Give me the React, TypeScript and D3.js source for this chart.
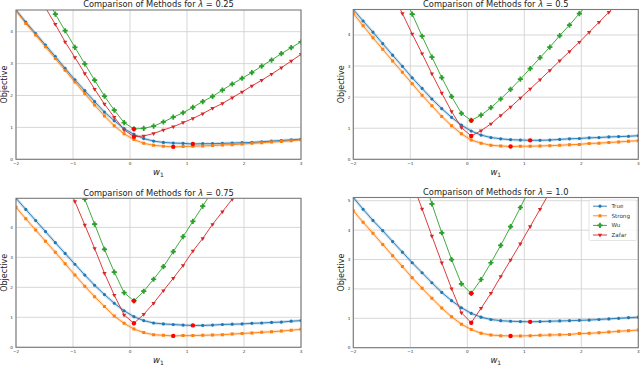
import React from 'react';
import * as d3 from 'd3';

const xValues = [-2, -1.828, -1.655, -1.483, -1.31, -1.138, -0.966, -0.793, -0.621, -0.448, -0.276, -0.103, 0.069, 0.241, 0.414, 0.586, 0.759, 0.931, 1.103, 1.276, 1.448, 1.621, 1.793, 1.966, 2.138, 2.31, 2.483, 2.655, 2.828, 3.0];

const lambdas = ['0.25', '0.5', '0.75', '1.0'];
const methods = ['True', 'Strong', 'Wu', 'Zafar'];
const yTops = [4.68, 4.82, 4.97, 5.11];
const xTicks = [-2, -1, 0, 1, 2, 3];
const yTicksPanels = [[0, 1, 2, 3, 4], [0, 1, 2, 3, 4], [0, 1, 2, 3, 4], [0, 1, 2, 3, 4, 5]];

// lambda = 0.25
const trueL025 = [4.68, 4.30, 3.94, 3.58, 3.22, 2.85, 2.49, 2.15, 1.81, 1.48, 1.21, 0.96, 0.78, 0.65, 0.57, 0.53, 0.51, 0.50, 0.48, 0.49, 0.49, 0.50, 0.51, 0.52, 0.53, 0.55, 0.57, 0.59, 0.61, 0.63];
const strongL025 = [4.66, 4.26, 3.90, 3.53, 3.16, 2.79, 2.42, 2.06, 1.70, 1.36, 1.05, 0.80, 0.62, 0.50, 0.44, 0.41, 0.39, 0.40, 0.41, 0.42, 0.43, 0.45, 0.46, 0.48, 0.50, 0.52, 0.54, 0.56, 0.58, 0.61];
const wuL025 = [6.69, 6.16, 5.63, 5.12, 4.55, 4.03, 3.51, 2.99, 2.48, 1.98, 1.54, 1.15, 0.95, 0.97, 1.04, 1.17, 1.32, 1.46, 1.63, 1.81, 1.97, 2.17, 2.36, 2.54, 2.72, 2.92, 3.11, 3.31, 3.50, 3.68];
const zafarL025 = [6.34, 5.81, 5.28, 4.75, 4.23, 3.68, 3.19, 2.69, 2.20, 1.73, 1.32, 0.92, 0.71, 0.73, 0.81, 0.92, 1.02, 1.15, 1.28, 1.43, 1.60, 1.75, 1.93, 2.11, 2.30, 2.48, 2.67, 2.87, 3.08, 3.29];

// lambda = 0.5
const trueL05 = [4.82, 4.45, 4.09, 3.72, 3.35, 2.99, 2.62, 2.28, 1.94, 1.63, 1.35, 1.10, 0.91, 0.78, 0.70, 0.66, 0.63, 0.62, 0.61, 0.61, 0.62, 0.64, 0.66, 0.67, 0.69, 0.70, 0.72, 0.73, 0.74, 0.76];
const strongL05 = [4.69, 4.30, 3.91, 3.54, 3.16, 2.80, 2.43, 2.06, 1.72, 1.38, 1.08, 0.82, 0.62, 0.52, 0.45, 0.43, 0.41, 0.42, 0.42, 0.43, 0.44, 0.45, 0.47, 0.48, 0.51, 0.52, 0.54, 0.56, 0.58, 0.60];
const wuL05 = [8.9, 8.2, 7.5, 6.8, 6.1, 5.38, 4.67, 3.96, 3.29, 2.63, 2.02, 1.48, 1.25, 1.42, 1.66, 1.94, 2.25, 2.58, 2.92, 3.27, 3.61, 3.98, 4.32, 4.69, 5.05, 5.42, 5.78, 6.15, 6.52, 6.88];
const zafarL05 = [7.9, 7.25, 6.6, 5.95, 5.3, 4.69, 4.03, 3.40, 2.75, 2.13, 1.54, 1.02, 0.75, 0.92, 1.14, 1.41, 1.68, 1.97, 2.26, 2.56, 2.86, 3.17, 3.47, 3.77, 4.09, 4.41, 4.73, 5.05, 5.37, 5.69];

// lambda = 0.75
const trueL075 = [4.97, 4.60, 4.23, 3.86, 3.49, 3.13, 2.77, 2.41, 2.07, 1.76, 1.47, 1.22, 1.02, 0.89, 0.81, 0.78, 0.76, 0.74, 0.73, 0.73, 0.74, 0.76, 0.77, 0.78, 0.80, 0.81, 0.83, 0.84, 0.87, 0.89];
const strongL075 = [4.67, 4.29, 3.91, 3.54, 3.17, 2.79, 2.41, 2.04, 1.69, 1.36, 1.04, 0.80, 0.61, 0.49, 0.42, 0.40, 0.38, 0.39, 0.39, 0.40, 0.41, 0.42, 0.44, 0.46, 0.48, 0.50, 0.52, 0.54, 0.57, 0.60];
const wuL075 = [10.6, 9.8, 9.0, 8.2, 7.4, 6.6, 5.8, 4.94, 4.11, 3.27, 2.51, 1.82, 1.55, 1.87, 2.27, 2.69, 3.19, 3.69, 4.20, 4.71, 5.22, 5.73, 6.24, 6.75, 7.26, 7.77, 8.28, 8.79, 9.30, 9.81];
const zafarL075 = [9.6, 8.8, 8.0, 7.2, 6.45, 5.65, 4.86, 4.08, 3.30, 2.47, 1.74, 1.08, 0.80, 1.10, 1.47, 1.89, 2.30, 2.73, 3.21, 3.63, 4.10, 4.52, 4.94, 5.37, 5.80, 6.23, 6.66, 7.09, 7.52, 7.95];

// lambda = 1.0
const trueL10 = [5.11, 4.71, 4.33, 3.98, 3.61, 3.25, 2.89, 2.55, 2.21, 1.88, 1.60, 1.36, 1.17, 1.04, 0.96, 0.92, 0.90, 0.89, 0.88, 0.89, 0.90, 0.91, 0.92, 0.93, 0.94, 0.96, 0.98, 1.00, 1.02, 1.04];
const strongL10 = [4.66, 4.27, 3.89, 3.51, 3.13, 2.76, 2.38, 2.02, 1.68, 1.35, 1.05, 0.80, 0.62, 0.49, 0.43, 0.41, 0.40, 0.40, 0.41, 0.42, 0.43, 0.44, 0.45, 0.48, 0.49, 0.51, 0.53, 0.56, 0.58, 0.60];
const wuL10 = [12.9, 11.9, 10.9, 9.9, 8.9, 7.9, 6.9, 5.9, 4.89, 3.91, 3.00, 2.17, 1.85, 2.32, 2.89, 3.48, 4.12, 4.77, 5.45, 6.1, 6.75, 7.4, 8.05, 8.7, 9.35, 10.0, 10.65, 11.3, 11.95, 12.6];
const zafarL10 = [11.3, 10.4, 9.5, 8.6, 7.55, 6.55, 5.62, 4.72, 3.80, 2.89, 2.01, 1.19, 0.85, 1.34, 1.85, 2.42, 2.98, 3.54, 4.12, 4.71, 5.30, 5.89, 6.48, 7.07, 7.66, 8.25, 8.84, 9.43, 10.02, 10.61];

const panelSeries = [
  [trueL025, strongL025, wuL025, zafarL025],
  [trueL05, strongL05, wuL05, zafarL05],
  [trueL075, strongL075, wuL075, zafarL075],
  [trueL10, strongL10, wuL10, zafarL10],
];

const colors = ['#1f77b4', '#ff7f0e', '#2ca02c', '#d62728'];
const symbols = [d3.symbolCircle, d3.symbolSquare, d3.symbolCross, d3.symbolTriangle];
const symSizes = [8, 9, 15, 8];
const symRot = [0, 0, 0, 180];

const frames = [
  { left: 16, right: 301, top: 10, bottom: 159.3 },
  { left: 353.3, right: 638.3, top: 9.5, bottom: 159.3 },
  { left: 16, right: 301, top: 198.3, bottom: 347.3 },
  { left: 353.3, right: 638.3, top: 197.5, bottom: 347.7 },
];

const FONT = 'DejaVu Sans, sans-serif';

function fmtTick(v: number) {
  return v < 0 ? '\u2212' + Math.abs(v) : String(v);
}

function Marker({ si, tx, ty }: { si: number; tx: number; ty: number }) {
  return (
    <g transform={`translate(${tx},${ty}) rotate(${symRot[si]})`}>
      <path d={d3.symbol().type(symbols[si]).size(symSizes[si])() || ''} fill={colors[si]} />
      {si === 2 ? <circle r={1.45} fill={colors[si]} /> : null}
    </g>
  );
}

function Panel({ idx }: { idx: number }) {
  const f = frames[idx];
  const x = d3.scaleLinear().domain([-2, 3]).range([f.left, f.right]);
  const y = d3.scaleLinear().domain([0, yTops[idx]]).range([f.bottom, f.top]);
  const series = panelSeries[idx];
  const clipId = `clip-${idx}`;
  const line = d3.line<number>().x((_, i) => x(xValues[i])).y((d) => y(d));
  const cx = (f.left + f.right) / 2;
  const cy = (f.top + f.bottom) / 2;
  const yTicks = yTicksPanels[idx].filter((t) => t <= yTops[idx]);
  return (
    <g>
      <defs>
        <clipPath id={clipId}>
          <rect x={f.left} y={f.top} width={f.right - f.left} height={f.bottom - f.top} />
        </clipPath>
      </defs>
      {xTicks.map((t) => (
        <line key={'gx' + t} x1={x(t)} x2={x(t)} y1={f.top} y2={f.bottom} stroke="#d2d2d2" strokeWidth={0.9} />
      ))}
      {yTicks.map((t) => (
        <line key={'gy' + t} x1={f.left} x2={f.right} y1={y(t)} y2={y(t)} stroke="#d2d2d2" strokeWidth={0.9} />
      ))}
      <g clipPath={`url(#${clipId})`}>
        {series.map((s, si) =>
          si < 2 ? (
            <path key={'h' + si} d={line(s) || ''} fill="none" stroke={colors[si]} strokeOpacity={0.22} strokeWidth={3} />
          ) : null
        )}
        {series.map((s, si) => (
          <path key={'l' + si} d={line(s) || ''} fill="none" stroke={colors[si]} strokeWidth={0.9} />
        ))}
        {series.map((s, si) =>
          s.map((v, i) => <Marker key={`m${si}-${i}`} si={si} tx={x(xValues[i])} ty={y(v)} />)
        )}
        {series.map((s, si) => {
          const mi = d3.minIndex(s);
          return <circle key={'min' + si} cx={x(xValues[mi])} cy={y(s[mi])} r={2.2} fill="#ff0000" />;
        })}
      </g>
      <rect x={f.left} y={f.top} width={f.right - f.left} height={f.bottom - f.top} fill="none" stroke="#7a7a7a" strokeWidth={1.1} />
      {xTicks.map((t) => (
        <text key={'tx' + t} x={x(t)} y={f.bottom + 5.5} fontSize={4.2} fill="#333" textAnchor="middle" fontFamily={FONT}>
          {fmtTick(t)}
        </text>
      ))}
      {yTicks.map((t) => (
        <text key={'ty' + t} x={f.left - 3} y={y(t) + 1.5} fontSize={4.2} fill="#333" textAnchor="end" fontFamily={FONT}>
          {fmtTick(t)}
        </text>
      ))}
      <text x={cx} y={f.top - 2.6} fontSize={8.3} fill="#222" textAnchor="middle" fontFamily={FONT}>
        <tspan>Comparison of Methods for </tspan>
        <tspan fontStyle="italic">λ</tspan>
        <tspan> = {lambdas[idx]}</tspan>
      </text>
      <text x={cx} y={f.bottom + 15.5} fontSize={8.5} fill="#222" textAnchor="middle" fontFamily={FONT}>
        <tspan fontStyle="italic">w</tspan>
        <tspan fontSize={6} dy={1.8}>1</tspan>
      </text>
      <text
        transform={`translate(${f.left - 9},${cy}) rotate(-90)`}
        fontSize={8}
        fill="#222"
        textAnchor="middle"
        fontFamily={FONT}
      >
        Objective
      </text>
      {idx === 3 ? <Legend /> : null}
    </g>
  );
}

function Legend() {
  const lx = 589;
  const ly = 200;
  const w = 48;
  const h = 40.5;
  const rows = [206.2, 215.8, 225.4, 235];
  return (
    <g>
      <rect x={lx} y={ly} width={w} height={h} rx={1.5} fill="#ffffff" fillOpacity={0.85} stroke="#d8d8d8" strokeWidth={0.7} />
      {methods.map((m, i) => (
        <g key={m}>
          <line x1={lx + 4} x2={lx + 18} y1={rows[i]} y2={rows[i]} stroke={colors[i]} strokeWidth={0.9} />
          <Marker si={i} tx={lx + 11} ty={rows[i]} />
          <text x={lx + 22.5} y={rows[i] + 2} fontSize={5.6} fill="#333" fontFamily={FONT}>
            {m}
          </text>
        </g>
      ))}
    </g>
  );
}

export default function App() {
  return (
    <svg width={640} height={365} viewBox="0 0 640 365" style={{ position: 'absolute', left: 0, top: 0, background: '#fff' }}>
      <rect width={640} height={365} fill="#fff" />
      {[0, 1, 2, 3].map((i) => (
        <Panel key={i} idx={i} />
      ))}
    </svg>
  );
}
